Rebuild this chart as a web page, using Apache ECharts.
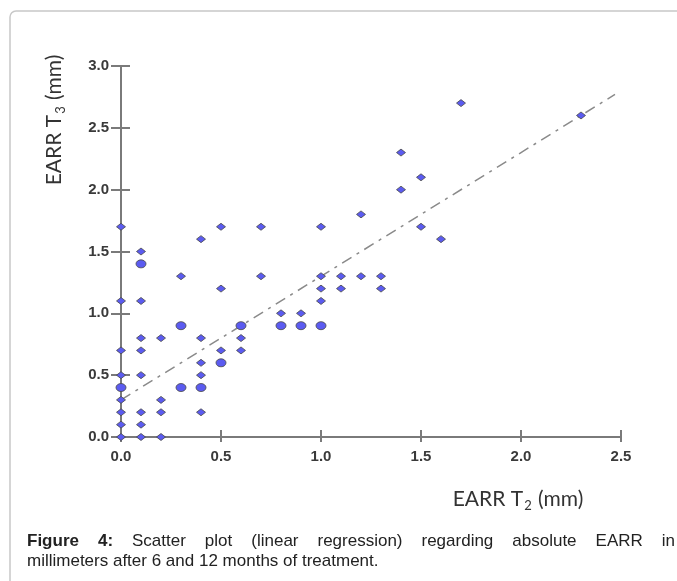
<!DOCTYPE html>
<html>
  <head>
    <meta charset="utf-8">
    <title>EARR scatter</title>
    <script src="https://cdn.jsdelivr.net/npm/echarts@6/dist/echarts.min.js"></script>
    <style>
      body { margin: 0; background: #fff; }
    </style>
  </head>
  <body>
      <div id="main" style="width:677px; height:581px;"></div>
      <script>
          // EARR T2 (x) vs EARR T3 (y), mm
          var singlePoints = [
              [0, 0], [0, 0.1], [0, 0.2], [0, 0.3], [0, 0.5], [0, 0.7], [0, 1.1], [0, 1.7],
              [0.1, 0], [0.1, 0.1], [0.1, 0.2], [0.1, 0.5], [0.1, 0.7], [0.1, 0.8], [0.1, 1.1], [0.1, 1.5],
              [0.2, 0], [0.2, 0.2], [0.2, 0.3], [0.2, 0.8],
              [0.3, 1.3],
              [0.4, 0.2], [0.4, 0.5], [0.4, 0.6], [0.4, 0.8], [0.4, 1.6],
              [0.5, 0.7], [0.5, 1.2], [0.5, 1.7],
              [0.6, 0.7], [0.6, 0.8],
              [0.7, 1.3], [0.7, 1.7],
              [0.8, 1.0], [0.9, 1.0],
              [1.0, 1.1], [1.0, 1.2], [1.0, 1.3], [1.0, 1.7],
              [1.1, 1.2], [1.1, 1.3],
              [1.2, 1.3], [1.2, 1.8],
              [1.3, 1.2], [1.3, 1.3],
              [1.4, 2.0], [1.4, 2.3],
              [1.5, 1.7], [1.5, 2.1],
              [1.6, 1.6], [1.7, 2.7], [2.3, 2.6]
          ]
          // points drawn with a larger marker (repeated values)
          var repeatedPoints = [
              [0, 0.4], [0.1, 1.4], [0.3, 0.4], [0.3, 0.9], [0.4, 0.4],
              [0.5, 0.6], [0.6, 0.9], [0.8, 0.9], [0.9, 0.9], [1.0, 0.9]
          ]
          var fitLine = [[0, 0.3], [2.47, 2.77]]

          var captionLine1 = [
              {t: 'Figure', b: true}, {t: '4:', b: true}, {t: 'Scatter'}, {t: 'plot'},
              {t: '(linear'}, {t: 'regression)'}, {t: 'regarding'}, {t: 'absolute'},
              {t: 'EARR'}, {t: 'in'}
          ]
          var captionLine2 = 'millimeters after 6 and 12 months of treatment.'

          var element = document.querySelector('#main')
          var myChart = echarts.init(element)

          var axisGray = '#7a7a7a'
          var labelFont = {
              fontFamily: '"Liberation Sans", Arial, sans-serif',
              fontWeight: 'bold',
              fontSize: 15,
              color: '#3a3a3a'
          }

          // justified caption, word by word
          var ctx = document.createElement('canvas').getContext('2d')
          var capFont = '"Liberation Sans", Arial, sans-serif'
          var measure = function(text, bold) {
              ctx.font = (bold ? 'bold ' : '') + '17px ' + capFont
              return ctx.measureText(text).width
          }
          var capLeft = 27
          var capRight = 675
          var total = 0
          captionLine1.forEach(function(w) { total += measure(w.t, w.b) })
          var gap = (capRight - capLeft - total) / (captionLine1.length - 1)
          var graphics = []
          var cx = capLeft
          captionLine1.forEach(function(w) {
              graphics.push({
                  type: 'text', x: cx, y: 541,
                  style: {
                      text: w.t, fontSize: 17, fontFamily: capFont,
                      fontWeight: w.b ? 'bold' : 'normal',
                      fill: '#222', verticalAlign: 'middle'
                  }
              })
              cx += measure(w.t, w.b) + gap
          })
          graphics.push({
              type: 'text', x: capLeft, y: 561,
              style: {
                  text: captionLine2, fontSize: 17, fontFamily: capFont,
                  fill: '#222', verticalAlign: 'middle'
              }
          })
          // frame
          graphics.push({
              type: 'rect', z: -1,
              shape: {x: 10, y: 11, width: 720, height: 620, r: 6},
              style: {fill: 'none', stroke: '#c8c8c8', lineWidth: 1.5}
          })
          var titleRich = {
              a: {fontSize: 21, fontFamily: 'Lato, sans-serif', fill: '#333', lineHeight: 26},
              s: {fontSize: 13, fontFamily: 'Lato, sans-serif', fill: '#333', lineHeight: 14,
                  verticalAlign: 'bottom', padding: [0, 1, 0, 1]}
          }
          graphics.push({
              type: 'text', x: 54, y: 120, rotation: Math.PI / 2,
              style: {
                  text: '{a|EARR T}{s|3}{a| (mm)}', rich: titleRich,
                  align: 'center', verticalAlign: 'middle'
              }
          })
          graphics.push({
              type: 'text', x: 518, y: 499,
              style: {
                  text: '{a|EARR T}{s|2}{a| (mm)}', rich: titleRich,
                  align: 'center', verticalAlign: 'middle'
              }
          })

          var option = {
              animation: false,
              grid: {left: 121, right: 56, top: 66, bottom: 144},
              xAxis: [
                  {
                      type: 'value', min: 0, max: 2.5, interval: 0.5,
                      axisLine: {lineStyle: {color: axisGray, width: 2}},
                      axisTick: {inside: true, length: 7, lineStyle: {color: axisGray, width: 2}},
                      splitLine: {show: false},
                      axisLabel: Object.assign({margin: 12, formatter: function(v) { return v.toFixed(1) }}, labelFont)
                  },
                  {
                      type: 'value', min: 0, max: 2.5, interval: 0.5, position: 'bottom',
                      axisLine: {show: false},
                      axisTick: {length: 5, lineStyle: {color: axisGray, width: 2}},
                      splitLine: {show: false},
                      axisLabel: {show: false}
                  }
              ],
              yAxis: [
                  {
                      type: 'value', min: 0, max: 3, interval: 0.5,
                      axisLine: {show: true, lineStyle: {color: axisGray, width: 2}},
                      axisTick: {show: true, length: 10, lineStyle: {color: axisGray, width: 2}},
                      splitLine: {show: false},
                      axisLabel: Object.assign({margin: 12, formatter: function(v) { return v.toFixed(1) }}, labelFont)
                  },
                  {
                      type: 'value', min: 0, max: 3, interval: 0.5, position: 'left',
                      axisLine: {show: false},
                      axisTick: {show: true, inside: true, length: 9, lineStyle: {color: axisGray, width: 2}},
                      splitLine: {show: false},
                      axisLabel: {show: false}
                  }
              ],
              graphic: graphics,
              series: [
                  {
                      type: 'line',
                      data: fitLine,
                      showSymbol: false,
                      symbol: 'none',
                      lineStyle: {color: '#8a8a8a', width: 1.5, type: [11, 6, 3, 6]},
                      z: 1
                  },
                  {
                      type: 'scatter',
                      data: singlePoints,
                      symbol: 'diamond',
                      symbolSize: [9, 7],
                      itemStyle: {color: '#5b5bf0', borderColor: '#4a4a4a', borderWidth: 0.8, opacity: 1},
                      z: 3
                  },
                  {
                      type: 'scatter',
                      data: repeatedPoints,
                      symbol: 'circle',
                      symbolSize: [10, 8],
                      itemStyle: {color: '#5b5bf0', borderColor: '#4a4a4a', borderWidth: 0.8, opacity: 1},
                      z: 3
                  }
              ]
          }
          myChart.setOption(option)
      </script>
  </body>
</html>
